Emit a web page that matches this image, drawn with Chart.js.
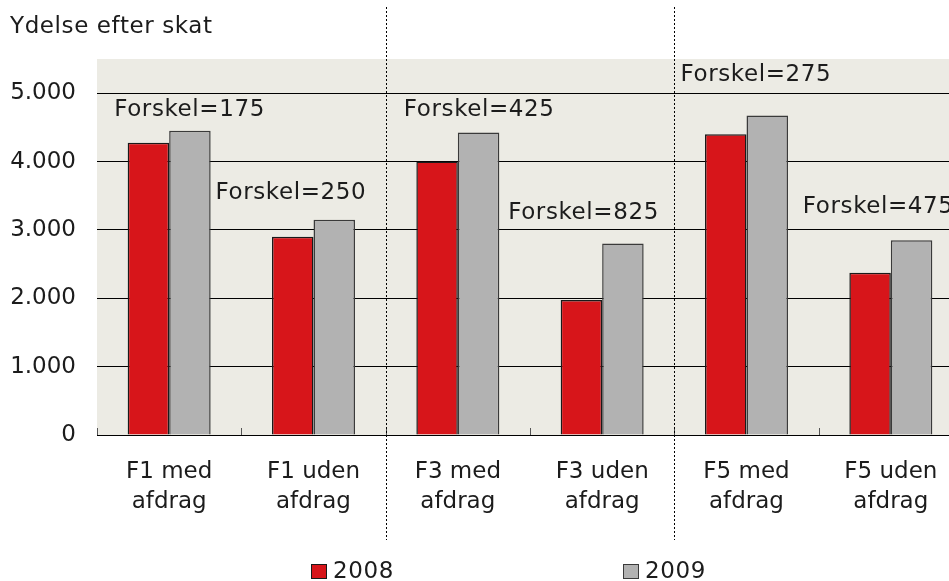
<!DOCTYPE html>
<html>
<head>
<meta charset="utf-8">
<script src="https://cdn.jsdelivr.net/npm/chart.js@4/dist/chart.umd.min.js"></script>
<style>
  html, body { margin: 0; padding: 0; background: #fff; overflow: hidden; }
  #wrap { width: 949px; height: 581px; overflow: hidden; }
</style>
</head>
<body>
<div id="wrap"><canvas id="chart" width="970" height="581"></canvas></div>
<script>
// data
const categories = [
  ["F1 med", "afdrag"], ["F1 uden", "afdrag"],
  ["F3 med", "afdrag"], ["F3 uden", "afdrag"],
  ["F5 med", "afdrag"], ["F5 uden", "afdrag"]
];
const values2008 = [4275, 2900, 4000, 1975, 4400, 2375];
const values2009 = [4450, 3150, 4425, 2800, 4675, 2850];
const yTicks = [0, 1000, 2000, 3000, 4000, 5000];

// where each "Forskel" label sits: x offset from category centre (px), y in value units
const diffLabelPos = [[-55, 4750], [-98, 3540], [-54, 4750], [-94, 3250], [-66, 5260], [-88, 3330]];

const FONT = "DejaVu Sans";
const TEXT = "#1c1c1c";

function fmt(v) {
  return String(v).replace(/\B(?=(\d{3})+(?!\d))/g, ".");
}

const extras = {
  id: "extras",
  beforeDraw(chart) {
    const { ctx, chartArea: a } = chart;
    ctx.save();
    ctx.fillStyle = "#ECEBE4";
    ctx.fillRect(a.left, a.top, a.right - a.left, a.bottom - a.top);
    ctx.restore();
  },
  afterDraw(chart) {
    const { ctx, chartArea: a } = chart;
    const x = chart.scales.x, y = chart.scales.y;
    ctx.save();
    ctx.letterSpacing = "0.6px";

    // title
    ctx.fillStyle = TEXT;
    ctx.font = "23px " + FONT;
    ctx.textBaseline = "middle";
    ctx.textAlign = "left";
    ctx.fillText("Ydelse efter skat", 10, 27);

    // small upward tick marks on the x axis
    ctx.strokeStyle = "#555";
    ctx.lineWidth = 1;
    for (let i = 0; i <= categories.length; i++) {
      const px = Math.round(x.getPixelForValue(i - 0.5)) + 0.5;
      ctx.beginPath();
      ctx.moveTo(px, a.bottom);
      ctx.lineTo(px, a.bottom - 7);
      ctx.stroke();
    }

    // dotted separators between F1 / F3 / F5
    ctx.strokeStyle = "#000";
    ctx.setLineDash([2, 2]);
    [1.5, 3.5].forEach(v => {
      const px = Math.round(x.getPixelForValue(v)) + 0.5;
      ctx.beginPath();
      ctx.moveTo(px, 7);
      ctx.lineTo(px, 540);
      ctx.stroke();
    });
    ctx.setLineDash([]);

    // Forskel labels
    ctx.fillStyle = TEXT;
    ctx.font = "23px " + FONT;
    ctx.textAlign = "left";
    values2008.forEach((v, i) => {
      const diff = values2009[i] - v;
      const p = diffLabelPos[i];
      ctx.fillText("Forskel=" + diff, x.getPixelForValue(i) + p[0], y.getPixelForValue(p[1]));
    });

    // legend
    const legendX = [311, 623];
    chart.data.datasets.forEach((ds, i) => {
      ctx.fillStyle = ds.backgroundColor;
      ctx.fillRect(legendX[i], 564, 16, 15);
      ctx.strokeStyle = ds.borderColor;
      ctx.lineWidth = 1;
      ctx.strokeRect(legendX[i] + 0.5, 564.5, 15, 14);
      ctx.fillStyle = TEXT;
      ctx.font = "23px " + FONT;
      ctx.fillText(ds.label, legendX[i] + 22, 572);
    });

    ctx.restore();
  }
};

new Chart(document.getElementById("chart"), {
  type: "bar",
  data: {
    labels: categories,
    datasets: [
      {
        label: "2008",
        data: values2008,
        backgroundColor: "#D7151A",
        borderColor: "#1a1a1a",
        borderWidth: 1.5
      },
      {
        label: "2009",
        data: values2009,
        backgroundColor: "#B2B2B2",
        borderColor: "#3a3a3a",
        borderWidth: 1.5
      }
    ]
  },
  options: {
    responsive: false,
    animation: false,
    events: [],
    layout: { padding: { left: 0, right: 7, top: 59, bottom: 0 } },
    datasets: { bar: { categoryPercentage: 0.575, barPercentage: 1 } },
    plugins: {
      legend: { display: false },
      tooltip: { enabled: false }
    },
    scales: {
      x: {
        grid: { display: false, drawTicks: false },
        border: { display: true, color: "#000", width: 1 },
        ticks: {
          color: TEXT,
          font: { family: FONT, size: 23, lineHeight: 1.3 },
          padding: 22,
          maxRotation: 0,
          autoSkip: false
        },
        afterFit(scale) { scale.height = 146; }
      },
      y: {
        min: 0,
        max: 5500,
        afterBuildTicks(scale) {
          scale.ticks = yTicks.concat([5500]).map(v => ({ value: v }));
        },
        grid: {
          drawTicks: false,
          color: ctx => (ctx.tick && ctx.tick.value === 5500 ? "rgba(0,0,0,0)" : "#000"),
          lineWidth: 1
        },
        border: { display: false },
        ticks: {
          color: TEXT,
          font: { family: FONT, size: 23 },
          padding: 21,
          callback: v => (yTicks.includes(v) ? fmt(v) : "")
        },
        afterFit(scale) { scale.width = 97; }
      }
    }
  },
  plugins: [extras]
});
</script>
</body>
</html>
